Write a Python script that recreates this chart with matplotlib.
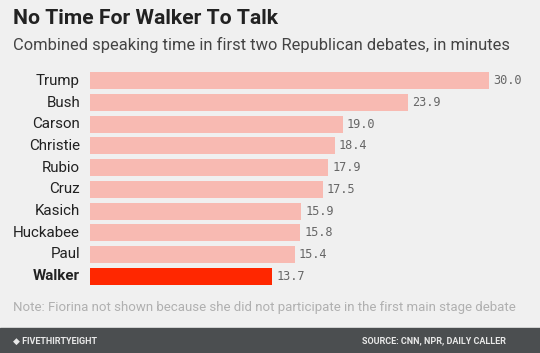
import matplotlib.pyplot as plt
from matplotlib.patches import Rectangle

plt.rcParams['font.family'] = ['Roboto', 'DejaVu Sans']

# data
names = ['Trump', 'Bush', 'Carson', 'Christie', 'Rubio', 'Cruz',
         'Kasich', 'Huckabee', 'Paul', 'Walker']
minutes = [30.0, 23.9, 19.0, 18.4, 17.9, 17.5, 15.9, 15.8, 15.4, 13.7]

bg = '#f0f0f0'
W, H = 540, 353
fig = plt.figure(figsize=(W / 100, H / 100), dpi=100, facecolor=bg)

# axes in pixel units: bars start at x=90, 30 min ends at x=489
left, right = 90, 540
top, bottom = 70, 287
ax = fig.add_axes([left / W, 1 - bottom / H, (right - left) / W, (bottom - top) / H])
ax.set_facecolor(bg)
px_per_unit = (489 - 90) / 30.0
ax.set_xlim(0, (right - left) / px_per_unit)
ax.set_ylim(len(names) - 0.5, -0.5)

colors = ['#f8bab2'] * (len(names) - 1) + ['#ff2700']
y = list(range(len(names)))
ax.barh(y, minutes, height=0.78, color=colors)

for i, (n, v) in enumerate(zip(names, minutes)):
    ax.text(v + 0.3, i, f'{v:.1f}', va='center', ha='left',
            family='DejaVu Sans Mono', fontsize=8.6, color='#666666')
    ax.text(-0.75, i, n, va='center', ha='right', fontsize=10.9,
            color='#222222', fontweight='bold' if n == 'Walker' else 'normal')

ax.axis('off')

fig.text(13 / W, 1 - 19 / H, 'No Time For Walker To Talk', fontsize=15.2,
         fontweight='bold', color='#222222', va='center', ha='left')
fig.text(13 / W, 1 - 45 / H,
         'Combined speaking time in first two Republican debates, in minutes',
         fontsize=11.9, color='#444444', va='center', ha='left')
fig.text(13 / W, 1 - 307 / H,
         'Note: Fiorina not shown because she did not participate in the first main stage debate',
         fontsize=9.5, color='#b0b0b0', va='center', ha='left')

# footer band
fig.patches.append(Rectangle((0, 0), 1, 25 / H, transform=fig.transFigure,
                             color='#4b4e50', zorder=0))
fig.text(13 / W, 12 / H, '\u25c6 FIVETHIRTYEIGHT', fontsize=6.5, color='#e8e8e8',
         va='center', ha='left', fontweight='bold')
fig.text(506 / W, 12 / H, 'SOURCE: CNN, NPR, DAILY CALLER', fontsize=6.5,
         color='#e8e8e8', va='center', ha='right', fontweight='bold')

fig.savefig('out.png', dpi=100, facecolor=bg)
